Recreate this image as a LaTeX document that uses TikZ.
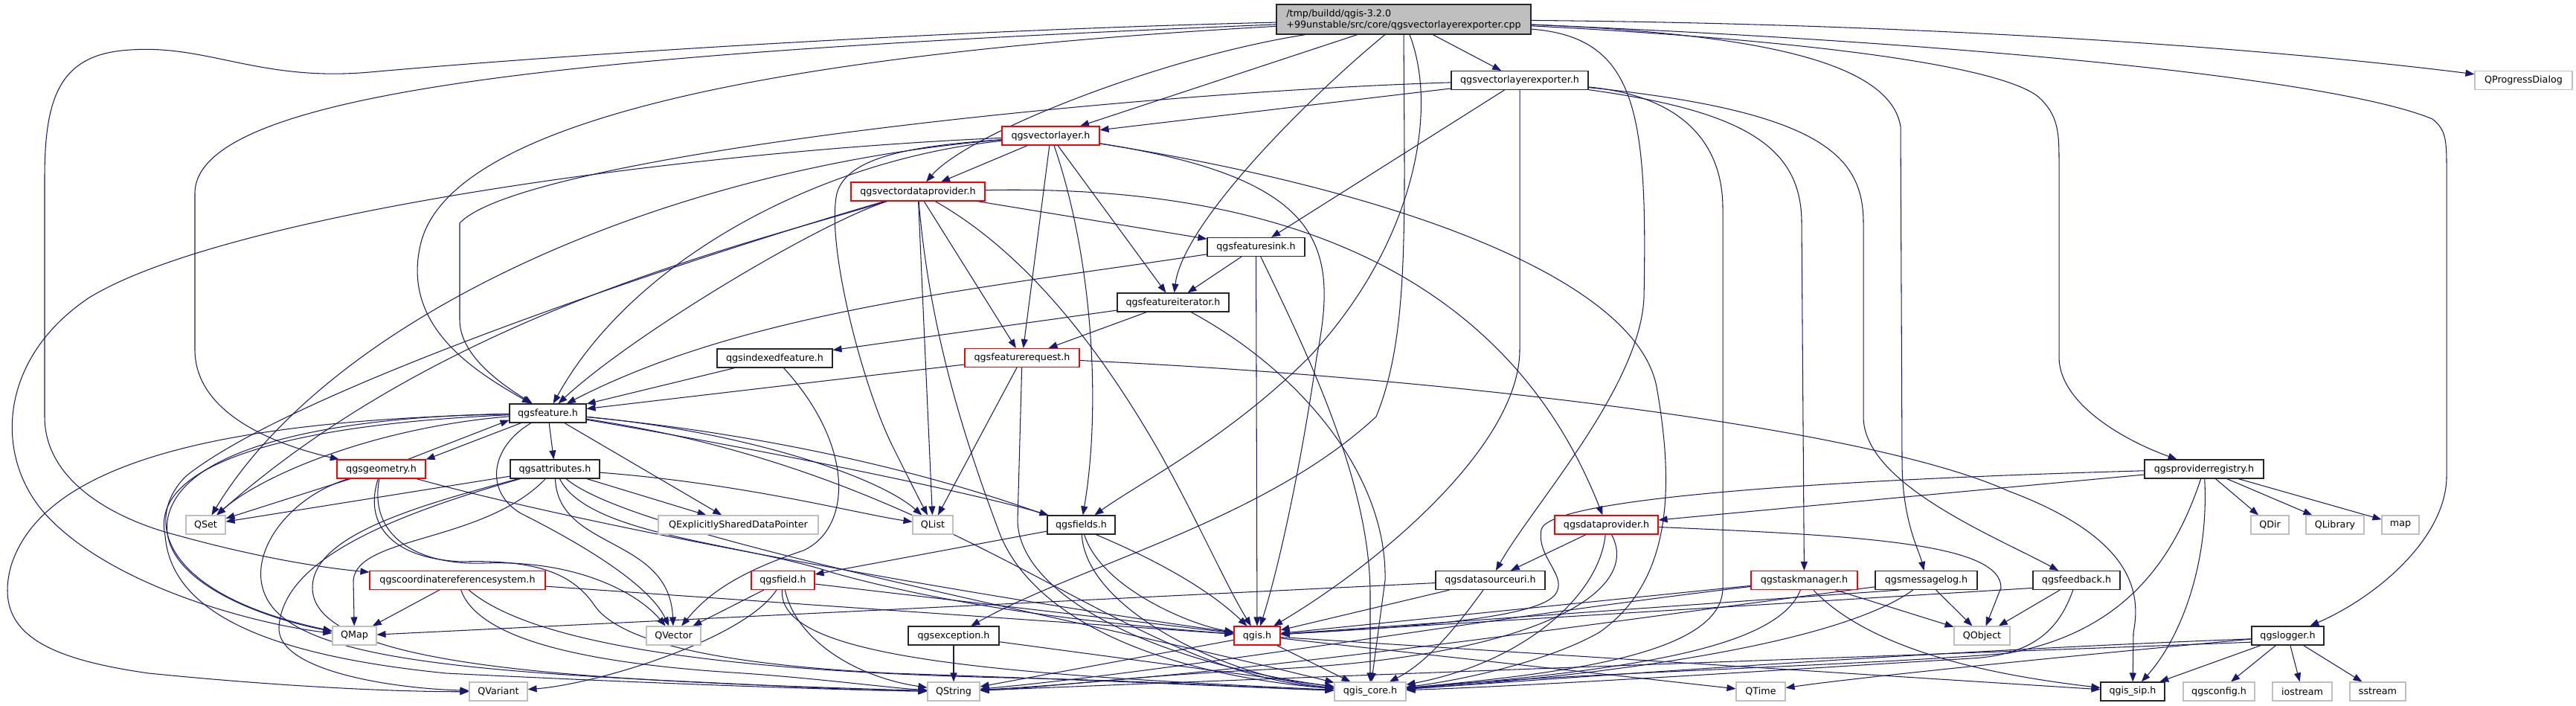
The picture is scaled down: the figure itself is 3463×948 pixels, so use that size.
\documentclass[tikz,border=0pt]{standalone}
\usepackage{fontspec}
\setmainfont{DejaVu Sans}
\usetikzlibrary{arrows.meta}
\definecolor{edgeblue}{HTML}{191970}
\definecolor{grey75}{HTML}{BFBFBF}
\pgfdeclarelayer{bg}
\pgfsetlayers{bg,main}
\tikzset{
  nbox/.style={rectangle, draw, inner sep=0pt, minimum height=25pt, line width=1.1pt,
    font=\fontsize{12.7}{15}\selectfont, text=black, fill=white},
  nblack/.style={nbox, draw=black!85},
  nred/.style={nbox, draw=red},
  ngray/.style={nbox, draw=grey75},
  dep/.style={draw=edgeblue, line width=1.05pt, -{Triangle[length=12pt,width=9pt]}}
}
\begin{document}
\begin{tikzpicture}[x=1pt,y=-1pt]
\useasboundingbox (0,0) rectangle (3463,948);
% ---------------- nodes ----------------
\node[nblack, fill=grey75, minimum width=342pt, minimum height=40pt, align=left] (cpp) at (1887,26) {/tmp/buildd/qgis-3.2.0\\+99unstable/src/core/qgsvectorlayerexporter.cpp};
\node[nblack, minimum width=184pt] (exporter) at (2043,108) {qgsvectorlayerexporter.h};
\node[ngray, minimum width=131pt] (qpd) at (3392.5,108) {QProgressDialog};
\node[nred, minimum width=131pt] (vlayer) at (1412.5,182.5) {qgsvectorlayer.h};
\node[nred, minimum width=180pt] (vdp) at (1234,257.5) {qgsvectordataprovider.h};
\node[nblack, minimum width=131pt] (fsink) at (1688.5,332) {qgsfeaturesink.h};
\node[nblack, minimum width=150pt] (fiter) at (1577,406.5) {qgsfeatureiterator.h};
\node[nblack, minimum width=155pt] (findexed) at (1041.5,481.5) {qgsindexedfeature.h};
\node[nred, minimum width=154pt] (freq) at (1374,481) {qgsfeaturerequest.h};
\node[nblack, minimum width=103pt] (feat) at (736.5,555.5) {qgsfeature.h};
\node[nred, minimum width=119pt] (geom) at (512.5,630.5) {qgsgeometry.h};
\node[nblack, minimum width=120pt] (attrs) at (746,630.5) {qgsattributes.h};
\node[ngray, minimum width=53pt] (qset) at (276.5,705.5) {QSet};
\node[ngray, minimum width=215pt] (qesdp) at (992.5,705.5) {QExplicitlySharedDataPointer};
\node[ngray, minimum width=54pt] (qlist) at (1254,705.5) {QList};
\node[nblack, minimum width=91pt] (fields) at (1453.5,705.5) {qgsfields.h};
\node[nblack, minimum width=160pt] (provreg) at (2963,630.5) {qgsproviderregistry.h};
\node[ngray, minimum width=51pt] (qdir) at (3051.5,705.5) {QDir};
\node[ngray, minimum width=78pt] (qlib) at (3139,705.5) {QLibrary};
\node[ngray, minimum width=50pt] (stdmap) at (3227,705.5) {map};
\node[nred, minimum width=139pt] (dprov) at (2159.5,705.5) {qgsdataprovider.h};
\node[nred, minimum width=236pt] (crs) at (615,780) {qgscoordinatereferencesystem.h};
\node[nred, minimum width=85pt] (field) at (1052.5,780) {qgsfield.h};
\node[nblack, minimum width=147pt] (dsuri) at (2003.5,780) {qgsdatasourceuri.h};
\node[nred, minimum width=143pt] (taskmgr) at (2425.5,780) {qgstaskmanager.h};
\node[nblack, minimum width=137pt] (msglog) at (2589.5,780) {qgsmessagelog.h};
\node[nblack, minimum width=117pt] (feedback) at (2791.5,780) {qgsfeedback.h};
\node[ngray, minimum width=59pt] (qmap) at (476.5,854.5) {QMap};
\node[ngray, minimum width=73pt] (qvector) at (905.5,854.5) {QVector};
\node[nblack, minimum width=122pt] (qexc) at (1282,854.5) {qgsexception.h};
\node[nred, minimum width=62pt] (qgis) at (1690,854.5) {qgis.h};
\node[ngray, minimum width=75pt] (qobject) at (2664.5,854.5) {QObject};
\node[nblack, minimum width=97pt] (logger) at (3075.5,854.5) {qgslogger.h};
\node[ngray, minimum width=78pt] (qvariant) at (670,929.5) {QVariant};
\node[ngray, minimum width=70pt] (qstring) at (1282,929.5) {QString};
\node[ngray, minimum width=96pt] (qgiscore) at (1842,929.5) {qgis\_core.h};
\node[ngray, minimum width=66pt] (qtime) at (2367,929.5) {QTime};
\node[nblack, minimum width=86pt] (qgissip) at (2867,929.5) {qgis\_sip.h};
\node[ngray, minimum width=96pt] (qgsconfig) at (2983,929.5) {qgsconfig.h};
\node[ngray, minimum width=80pt] (iostream) at (3095,929.5) {iostream};
\node[ngray, minimum width=75pt] (sstream) at (3196.5,929.5) {sstream};
% ---------------- edges ----------------
\begin{pgfonlayer}{bg}
% cpp
\draw[dep] (cpp) -- (exporter);
\draw[dep] (cpp) .. controls (2600,32) and (3050,65) .. (qpd);
\draw[dep] (cpp) -- (vlayer);
\draw[dep] (cpp) .. controls (1560,77) and (1300,180) .. (vdp);
\draw[dep] (cpp) .. controls (1760,130) and (1590,300) .. (fiter);
\draw[dep] (cpp) .. controls (1000,75) and (600,170) .. (565,330) .. controls (540,440) and (640,500) .. (feat);
\draw[dep] (cpp) .. controls (800,70) and (262,120) .. (262,260) -- (262,470) .. controls (262,560) and (380,600) .. (geom);
\draw[dep] (cpp) .. controls (1300,40) and (800,70) .. (497,97) .. controls (350,110) and (280,60) .. (176,67) .. controls (80,72) and (60,130) .. (60,240) -- (60,560) .. controls (60,650) and (160,700) .. (240,720) .. controls (330,745) and (420,762) .. (crs);
\draw[dep] (cpp) .. controls (1935,150) and (1900,330) .. (1760,480) .. controls (1650,590) and (1530,650) .. (fields);
\draw[dep] (cpp) .. controls (1888,300) and (1895,450) .. (1850,560) .. controls (1700,700) and (1450,760) .. (qexc);
\draw[dep] (cpp) .. controls (2200,50) and (2215,150) .. (2210,400) .. controls (2205,520) and (2060,680) .. (dsuri);
\draw[dep] (cpp) .. controls (2450,55) and (2690,90) .. (2740,130) .. controls (2768,155) and (2768,180) .. (2768,220) -- (2768,480) .. controls (2768,540) and (2850,590) .. (provreg);
\draw[dep] (cpp) .. controls (2350,45) and (2540,80) .. (2555,170) -- (2557,620) .. controls (2557,700) and (2580,740) .. (msglog);
\draw[dep] (cpp) .. controls (2700,60) and (3150,110) .. (3270,160) .. controls (3289,175) and (3289,190) .. (3289,230) -- (3289,640) .. controls (3289,720) and (3200,800) .. (logger);
% exporter
\draw[dep] (exporter) -- (vlayer);
\draw[dep] (exporter) .. controls (1500,125) and (700,210) .. (618,300) -- (618,430) .. controls (618,480) and (680,520) .. (feat);
\draw[dep] (exporter) -- (fsink);
\draw[dep] (exporter) -- (2043,470) .. controls (2043,600) and (1850,760) .. (qgis);
\draw[dep] (exporter) .. controls (2270,130) and (2316,200) .. (2316,280) -- (2316,790) .. controls (2316,880) and (2100,905) .. (qgiscore);
\draw[dep] (exporter) .. controls (2350,150) and (2422,200) .. (2422,300) -- (taskmgr);
\draw[dep] (exporter) .. controls (2450,150) and (2505,210) .. (2505,300) -- (2505,560) .. controls (2505,650) and (2680,720) .. (feedback);
% vlayer
\draw[dep] (vlayer) -- (vdp);
\draw[dep] (vlayer) -- (fiter);
\draw[dep] (vlayer) -- (freq);
\draw[dep] (vlayer) .. controls (1470,350) and (1480,550) .. (fields);
\draw[dep] (vlayer) .. controls (1100,215) and (850,350) .. (feat);
\draw[dep] (vlayer) .. controls (900,225) and (450,420) .. (qset);
\draw[dep] (vlayer) .. controls (900,205) and (300,290) .. (120,400) .. controls (0,480) and (-10,610) .. (60,690) .. controls (150,790) and (350,840) .. (qmap);
\draw[dep] (vlayer) .. controls (1250,195) and (1140,205) .. (1125,260) .. controls (1110,330) and (1160,520) .. (1200,600) .. controls (1220,640) and (1235,670) .. (qlist);
\draw[dep] (vlayer) .. controls (1780,240) and (1800,330) .. (1770,480) .. controls (1750,620) and (1720,760) .. (qgis);
\draw[dep] (vlayer) .. controls (1900,260) and (2200,380) .. (2227,520) .. controls (2250,650) and (2250,780) .. (2150,850) .. controls (2080,890) and (1960,915) .. (qgiscore);
% vdp
\draw[dep] (vdp) -- (fsink);
\draw[dep] (vdp) -- (freq);
\draw[dep] (vdp) .. controls (1100,300) and (850,450) .. (feat);
\draw[dep] (vdp) .. controls (1000,330) and (600,420) .. (qset);
\draw[dep] (vdp) .. controls (950,340) and (400,520) .. (250,640) .. controls (190,700) and (220,800) .. (qmap);
\draw[dep] (vdp) -- (qlist);
\draw[dep] (vdp) .. controls (1600,250) and (2000,300) .. (dprov);
\draw[dep] (vdp) .. controls (1380,340) and (1480,470) .. (1560,610) .. controls (1610,700) and (1650,790) .. (qgis);
\draw[dep] (vdp) .. controls (1250,450) and (1300,600) .. (1345,720) .. controls (1400,850) and (1600,910) .. (qgiscore);
% fsink
\draw[dep] (fsink) -- (fiter);
\draw[dep] (fsink) .. controls (1300,390) and (1000,420) .. (feat);
\draw[dep] (fsink) -- (qgis);
\draw[dep] (fsink) .. controls (1760,480) and (1842,650) .. (1842,800) -- (qgiscore);
% fiter
\draw[dep] (fiter) -- (findexed);
\draw[dep] (fiter) -- (freq);
\draw[dep] (fiter) .. controls (1750,500) and (1865,640) .. (1862,780) -- (qgiscore);
% findexed
\draw[dep] (findexed) -- (feat);
\draw[dep] (findexed) .. controls (1150,600) and (1145,710) .. (1080,740) .. controls (990,770) and (950,800) .. (qvector);
% freq
\draw[dep] (freq) -- (feat);
\draw[dep] (freq) -- (qlist);
\draw[dep] (freq) -- (1368,700) .. controls (1370,800) and (1550,890) .. (qgiscore);
\draw[dep] (freq) .. controls (1900,505) and (2500,570) .. (2700,660) .. controls (2860,720) and (2880,790) .. (2868,850) -- (qgissip);
% feat
\draw[dep] (feat.200) -- (geom.12);
\draw[dep] (geom.20) -- (feat.190);
\draw[dep] (feat) -- (attrs);
\draw[dep] (feat) .. controls (500,575) and (350,640) .. (qset);
\draw[dep] (feat) -- (qesdp);
\draw[dep] (feat) .. controls (1000,580) and (1180,640) .. (qlist);
\draw[dep] (feat) .. controls (1000,600) and (1300,660) .. (fields);
\draw[dep] (feat) .. controls (450,560) and (240,600) .. (225,700) .. controls (215,780) and (350,830) .. (qmap);
\draw[dep] (feat) .. controls (660,600) and (650,660) .. (700,690) .. controls (760,720) and (870,780) .. (qvector);
\draw[dep] (feat) .. controls (300,565) and (60,620) .. (15,760) .. controls (-10,850) and (60,885) .. (200,905) .. controls (400,925) and (550,930) .. (qvariant);
\draw[dep] (feat) .. controls (1200,600) and (1550,720) .. (qgis);
\draw[dep] (feat) .. controls (1300,640) and (1500,900) .. (qgiscore);
\draw[dep] (feat) .. controls (400,570) and (200,620) .. (222,720) .. controls (230,820) and (350,880) .. (600,905) .. controls (900,920) and (1150,928) .. (qstring);
% geom
\draw[dep] (geom) -- (qset);
\draw[dep] (geom) .. controls (495,720) and (560,760) .. (650,757) .. controls (780,752) and (860,800) .. (qvector);
\draw[dep] (geom) .. controls (800,710) and (1300,800) .. (qgis);
\draw[dep] (geom) .. controls (490,700) and (520,750) .. (620,755) .. controls (720,752) and (770,770) .. (800,815) .. controls (840,870) and (1000,895) .. (1200,905) .. controls (1500,915) and (1700,925) .. (qgiscore);
\draw[dep] (geom) .. controls (380,670) and (320,760) .. (367,817) .. controls (420,880) and (600,900) .. (900,915) .. controls (1050,922) and (1150,928) .. (qstring);
% attrs
\draw[dep] (attrs) -- (qset);
\draw[dep] (attrs) -- (qesdp);
\draw[dep] (attrs) .. controls (1000,650) and (1150,690) .. (qlist);
\draw[dep] (attrs) .. controls (650,730) and (480,720) .. (475,780) -- (qmap);
\draw[dep] (attrs) .. controls (750,740) and (900,720) .. (qvector);
\draw[dep] (attrs) .. controls (500,700) and (380,760) .. (375,843) .. controls (372,900) and (520,925) .. (qvariant);
\draw[dep] (attrs) .. controls (790,720) and (1000,730) .. (1120,770) .. controls (1300,820) and (1500,840) .. (qgis);
\draw[dep] (attrs) .. controls (850,720) and (1400,820) .. (qgiscore);
\draw[dep] (attrs) .. controls (560,680) and (420,720) .. (420,790) .. controls (420,900) and (800,915) .. (qstring);
% fields
\draw[dep] (fields) -- (field);
\draw[dep] (fields) .. controls (1480,790) and (1600,840) .. (qgis);
\draw[dep] (fields) .. controls (1460,820) and (1650,910) .. (qgiscore);
% field
\draw[dep] (field) -- (qvector);
\draw[dep] (field) .. controls (1000,860) and (800,920) .. (qvariant);
\draw[dep] (field) -- (qgis);
\draw[dep] (field) .. controls (1045,880) and (1300,905) .. (qgiscore);
\draw[dep] (field) .. controls (1070,860) and (1150,910) .. (qstring);
% crs
\draw[dep] (crs) -- (qmap);
\draw[dep] (crs) -- (qgis);
\draw[dep] (crs) .. controls (640,850) and (750,890) .. (1000,905) .. controls (1100,912) and (1200,925) .. (qstring);
\draw[dep] (crs) .. controls (720,870) and (1000,905) .. (1400,912) .. controls (1600,918) and (1700,925) .. (qgiscore);
% dprov
\draw[dep] (dprov) -- (dsuri);
\draw[dep] (dprov) .. controls (2500,720) and (2690,730) .. (2690,790) -- (qobject);
\draw[dep] (dprov) .. controls (2150,800) and (2050,890) .. (qgiscore);
\draw[dep] (dprov) .. controls (2210,800) and (2050,885) .. (1700,900) .. controls (1500,910) and (1400,925) .. (qstring);
% dsuri
\draw[dep] (dsuri) -- (qmap);
\draw[dep] (dsuri) -- (qgis);
\draw[dep] (dsuri) .. controls (1960,840) and (1920,890) .. (qgiscore);
% taskmgr
\draw[dep] (taskmgr) -- (qobject);
\draw[dep] (taskmgr) .. controls (2520,880) and (2700,910) .. (qgissip);
\draw[dep] (taskmgr) .. controls (2390,870) and (2200,900) .. (qgiscore);
\draw[dep] (taskmgr) -- (qgis);
\draw[dep] (taskmgr) .. controls (2000,830) and (1600,900) .. (qstring);
% msglog
\draw[dep] (msglog) -- (qobject);
\draw[dep] (msglog.200) -- (qgis);
\draw[dep] (msglog) .. controls (2480,860) and (2200,905) .. (qgiscore);
\draw[dep] (msglog) .. controls (2200,830) and (1700,905) .. (qstring);
% feedback
\draw[dep] (feedback) -- (qobject);
\draw[dep] (feedback) .. controls (2770,840) and (2740,880) .. (2650,885) .. controls (2400,900) and (2100,920) .. (qgiscore);
\draw[dep] (feedback.190) -- (qgis);
% qgsexception
\draw[dep] (qexc) -- (qstring);
\draw[dep] (qexc) -- (qgiscore);
% qgis
\draw[dep] (qgis) -- (qstring);
\draw[dep] (qgis) -- (qgiscore);
\draw[dep] (qgis) -- (qtime);
\draw[dep] (qgis) -- (qgissip);
% logger
\draw[dep] (logger) -- (qgissip);
\draw[dep] (logger) -- (qgsconfig);
\draw[dep] (logger) -- (iostream);
\draw[dep] (logger) -- (sstream);
\draw[dep] (logger.190) .. controls (2600,880) and (2000,900) .. (qstring);
\draw[dep] (logger.185) .. controls (2600,875) and (2200,905) .. (qgiscore);
\draw[dep] (logger) .. controls (2800,880) and (2500,910) .. (qtime);
% provider registry
\draw[dep] (provreg) -- (qdir);
\draw[dep] (provreg) -- (qlib);
\draw[dep] (provreg) -- (stdmap);
\draw[dep] (provreg) -- (dprov);
\draw[dep] (provreg) .. controls (2450,645) and (2080,670) .. (2072,712) .. controls (2065,750) and (2110,775) .. (2090,800) .. controls (2060,835) and (1850,845) .. (qgis);
\draw[dep] (provreg) .. controls (2970,760) and (2930,860) .. (qgissip);
\draw[dep] (provreg) .. controls (2920,760) and (2850,850) .. (2700,878) .. controls (2500,895) and (2100,905) .. (qgiscore);
\end{pgfonlayer}
\end{tikzpicture}
\end{document}
